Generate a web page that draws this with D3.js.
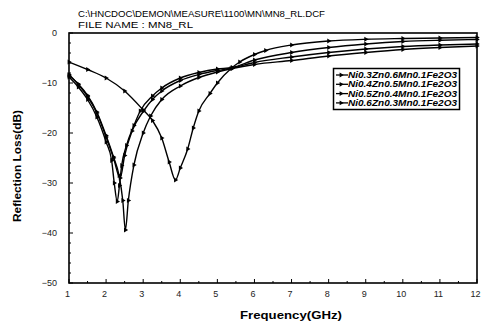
<!DOCTYPE html>
<html><head><meta charset="utf-8">
<script src="https://cdn.jsdelivr.net/npm/d3@7"></script>
<style>html,body{margin:0;padding:0;background:#fff;}svg{display:block;}</style>
</head><body>
<svg id="c" width="484" height="327"></svg>
<script>
// ---- data ----
const titleLines = ["C:\\HNCDOC\\DEMON\\MEASURE\\1100\\MN\\MN8_RL.DCF", "FILE NAME  :  MN8_RL"];
const seriesNames = ["Ni0.3Zn0.6Mn0.1Fe2O3", "Ni0.4Zn0.5Mn0.1Fe2O3", "Ni0.5Zn0.4Mn0.1Fe2O3", "Ni0.6Zn0.3Mn0.1Fe2O3"];
const xTicks = [1,2,3,4,5,6,7,8,9,10,11,12];
const yTicks = [0,-10,-20,-30,-40,-50];

const freqA = [1,1.5,2,2.5,3,3.25,3.5,3.7,3.87,4.0,4.2,4.35,4.5,4.8,5.0,5.37,5.6,6.0,6.3,7,8,9,10,11,12];
const lossA = [-5.8,-7.3,-9.0,-11.6,-15.4,-17.5,-21.0,-25.8,-29.4,-27.0,-23.2,-19.0,-15.6,-12.1,-10.0,-7.1,-5.8,-4.3,-3.5,-2.4,-1.6,-1.25,-1.1,-1.0,-0.9];

const freqB = [1,1.25,1.5,1.75,2.0,2.2,2.35,2.45,2.52,2.6,2.75,3.0,3.2,3.5,4.0,4.5,5.0,5.4,6,7,8,9,10,11,12];
const lossB = [-8.5,-10.2,-12.5,-15.8,-20.5,-24.8,-28.5,-33.5,-39.4,-33.5,-26.4,-20.0,-16.6,-13.3,-10.6,-8.9,-7.8,-7.1,-6.3,-5.5,-4.6,-3.9,-3.3,-2.9,-2.6];

const freqC = [1,1.25,1.5,1.75,2.0,2.15,2.22,2.3,2.36,2.42,2.55,2.75,2.92,3.25,3.5,4,4.5,5.0,5.4,6,7,8,9,10,11,12];
const lossC = [-8.8,-10.8,-13.3,-16.8,-21.8,-25.5,-30.0,-33.7,-30.5,-26.5,-22.5,-18.5,-15.6,-12.6,-11.0,-9.0,-7.9,-7.2,-6.9,-5.4,-3.9,-2.9,-2.2,-1.7,-1.45,-1.3];

const freqD = [1,1.25,1.5,1.75,2.0,2.2,2.38,2.5,2.7,3.01,3.25,3.5,4,4.5,5.0,5.4,6,7,8,9,10,11,12];
const lossD = [-8.3,-10.3,-12.7,-16.0,-20.8,-25.0,-29.0,-24.5,-19.6,-15.6,-13.3,-11.6,-9.5,-8.3,-7.5,-7.0,-5.9,-4.8,-3.9,-3.2,-2.7,-2.4,-2.2];

// ---- chart ----
const svg = d3.select("#c");
const x = d3.scaleLinear().domain([1,12]).range([69,477]);
const y = d3.scaleLinear().domain([0,-50]).range([33,283]);

svg.append("text").attr("x",78).attr("y",17).attr("font-family","Liberation Sans, Arial, sans-serif")
  .attr("font-size",9).attr("textLength",247).attr("lengthAdjust","spacingAndGlyphs").text(titleLines[0]);
svg.append("text").attr("x",78).attr("y",28).attr("font-family","Liberation Sans, Arial, sans-serif")
  .attr("font-size",9.5).attr("textLength",115).attr("lengthAdjust","spacingAndGlyphs").text(titleLines[1]);

// frame
svg.append("rect").attr("x",x(1)).attr("y",y(0)).attr("width",x(12)-x(1)).attr("height",y(-50)-y(0))
  .attr("fill","none").attr("stroke","#000").attr("stroke-width",1.6);

// ticks (inward)
const xAxis = d3.axisBottom(x).tickValues(xTicks).tickSize(0).tickPadding(8).tickFormat(d3.format("d"));
const gx = svg.append("g").attr("transform",`translate(0,${y(-50)})`).call(xAxis);
gx.select(".domain").remove();
gx.selectAll("text").attr("font-family","Liberation Sans, Arial, sans-serif").attr("font-size",9).attr("fill","#222").attr("dx",-2);
const minorX = d3.range(1,12.01,0.5);
svg.append("g").selectAll("line").data(minorX).join("line")
  .attr("x1",d=>x(d)).attr("x2",d=>x(d)).attr("y1",y(-50)).attr("y2",d=>y(-50)-(Number.isInteger(d)?4:2))
  .attr("stroke","#000").attr("stroke-width",1);

const yAxis = d3.axisLeft(y).tickValues(yTicks).tickSize(0).tickPadding(12).tickFormat(d3.format("d"));
const gy = svg.append("g").attr("transform",`translate(${x(1)},0)`).call(yAxis);
gy.select(".domain").remove();
gy.selectAll("text").attr("font-family","Liberation Sans, Arial, sans-serif").attr("font-size",9).attr("fill","#222");
const minorY = d3.range(0,-50.01,-2);
svg.append("g").selectAll("line").data(minorY).join("line")
  .attr("y1",d=>y(d)).attr("y2",d=>y(d)).attr("x1",x(1)).attr("x2",d=>x(1)+(d%10===0?4:2))
  .attr("stroke","#000").attr("stroke-width",1);

// axis titles
svg.append("text").attr("x",291).attr("y",319).attr("text-anchor","middle")
  .attr("font-family","Liberation Sans, Arial, sans-serif").attr("font-size",10).attr("font-weight","bold")
  .attr("textLength",102).attr("lengthAdjust","spacingAndGlyphs").text("Frequency(GHz)");
svg.append("text").attr("transform","translate(21,166) rotate(-90)").attr("text-anchor","middle")
  .attr("font-family","Liberation Sans, Arial, sans-serif").attr("font-size",10).attr("font-weight","bold")
  .attr("textLength",112).attr("lengthAdjust","spacingAndGlyphs").text("Reflection Loss(dB)");

// series
const series = [
  {f:freqC, v:lossC},
  {f:freqB, v:lossB},
  {f:freqD, v:lossD},
  {f:freqA, v:lossA}
];
const line = d3.line().x(d=>x(d[0])).y(d=>y(d[1])).curve(d3.curveMonotoneX);
const tri = d3.symbol().type(d3.symbolTriangle).size(10);
const plot = svg.append("g");
series.forEach(s=>{
  const pts = s.f.map((f,i)=>[f,s.v[i]]);
  plot.append("path").attr("d",line(pts)).attr("fill","none").attr("stroke","#000").attr("stroke-width",1.4);
  plot.selectAll(null).data(pts).join("path").attr("d",tri)
    .attr("transform",d=>`translate(${x(d[0])},${y(d[1])}) rotate(90)`).attr("fill","#000");
});

// legend
const lg = svg.append("g");
lg.append("rect").attr("x",333.5).attr("y",68.5).attr("width",126).attr("height",41)
  .attr("fill","#fff").attr("stroke","#000").attr("stroke-width",1.5);
seriesNames.forEach((n,i)=>{
  const yy = 75 + i*9.3;
  lg.append("line").attr("x1",336).attr("x2",348).attr("y1",yy).attr("y2",yy).attr("stroke","#000").attr("stroke-width",1.3);
  lg.append("path").attr("d",tri).attr("transform",`translate(341,${yy}) rotate(90)`).attr("fill","#000");
  lg.append("text").attr("x",348).attr("y",yy+3).attr("font-family","Liberation Sans, Arial, sans-serif")
    .attr("font-size",8.5).attr("font-weight","bold").attr("font-style","italic")
    .attr("textLength",109).attr("lengthAdjust","spacingAndGlyphs").text(n);
});
</script>
</body></html>
